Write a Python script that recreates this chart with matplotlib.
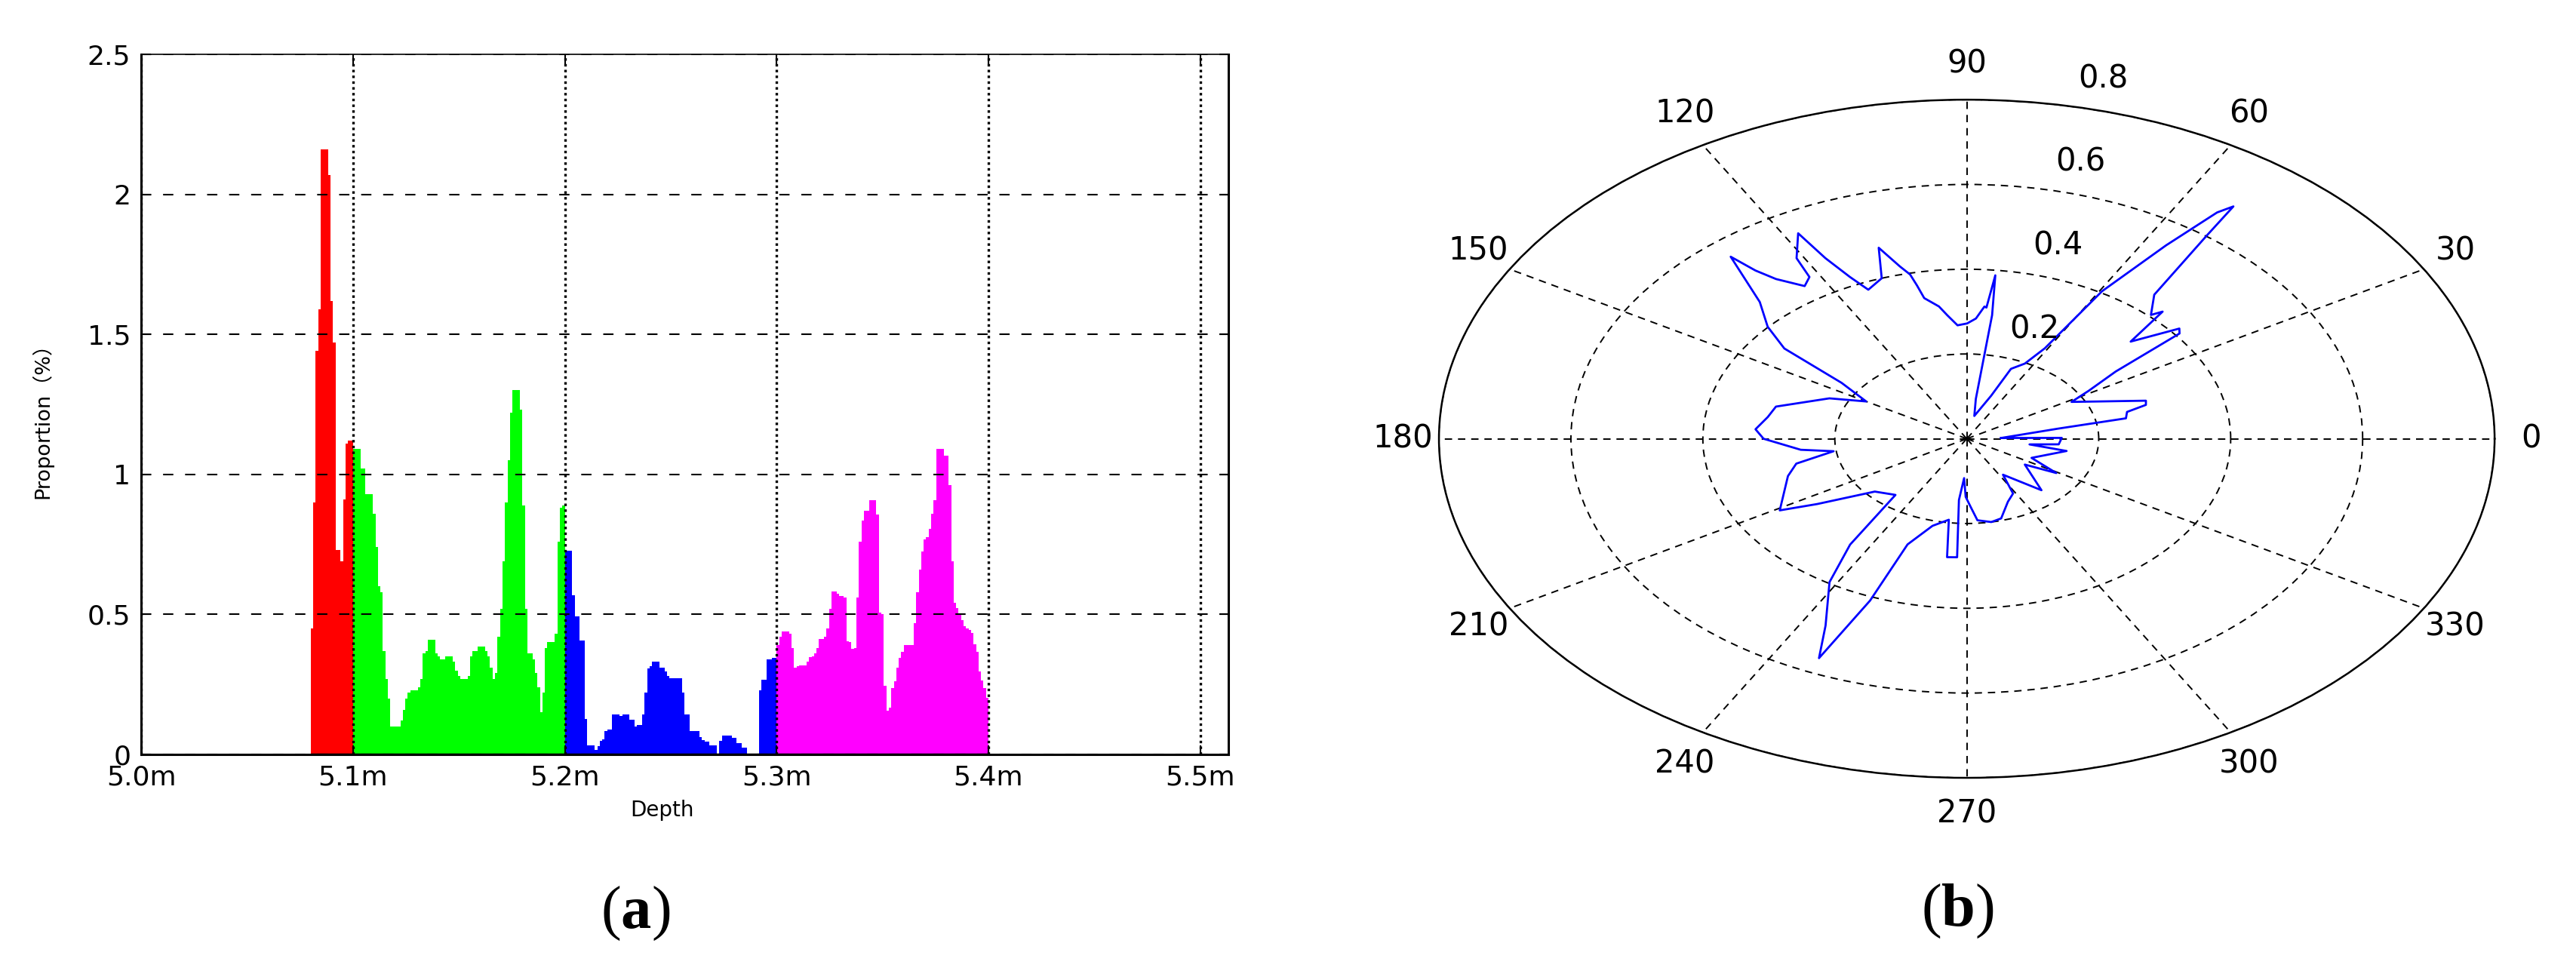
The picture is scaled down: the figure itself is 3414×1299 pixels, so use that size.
import matplotlib.pyplot as plt
import numpy as np

plt.rcParams['font.family'] = ['DejaVu Sans', 'Noto Sans CJK SC']
plt.rcParams['mathtext.fontset'] = 'custom'
plt.rcParams['mathtext.rm'] = 'Liberation Serif'
plt.rcParams['mathtext.bf'] = 'Liberation Serif:bold'

# ---- (a) depth histogram, one list per coloured depth segment ----
bin_width = 0.1 / 85
segment_start = [5.08, 5.10, 5.20, 5.30]
segment_color = ['#ff0000', '#00ff00', '#0000ff', '#ff00ff']

red_vals = [0.45, 0.90, 1.44, 1.59, 2.16, 2.16, 2.16, 2.07, 1.62, 1.47,
            0.73, 0.73, 0.69, 0.91, 1.11, 1.12, 1.12]
green_vals = [1.09, 1.09, 1.09, 1.02, 1.02, 0.93, 0.93, 0.93, 0.86, 0.74,
              0.60, 0.58, 0.37, 0.27, 0.20, 0.10, 0.10, 0.10, 0.10, 0.12,
              0.16, 0.20, 0.22, 0.23, 0.23, 0.23, 0.24, 0.27, 0.36, 0.37,
              0.41, 0.41, 0.41, 0.36, 0.35, 0.34, 0.34, 0.35, 0.35, 0.35,
              0.33, 0.30, 0.28, 0.27, 0.27, 0.27, 0.28, 0.35, 0.37, 0.37,
              0.385, 0.385, 0.385, 0.37, 0.35, 0.31, 0.27, 0.29, 0.42, 0.52,
              0.69, 0.90, 1.05, 1.22, 1.30, 1.30, 1.30, 1.23, 0.89, 0.52,
              0.36, 0.36, 0.34, 0.29, 0.24, 0.15, 0.22, 0.38, 0.40, 0.40,
              0.40, 0.43, 0.76, 0.88, 0.89]
blue_vals = [0.726, 0.726, 0.726, 0.569, 0.493, 0.493, 0.407, 0.407, 0.127, 0.032,
             0.032, 0.032, 0.017, 0.030, 0.048, 0.053, 0.084, 0.089, 0.089, 0.142,
             0.142, 0.142, 0.137, 0.142, 0.142, 0.142, 0.125, 0.125, 0.100, 0.105,
             0.105, 0.142, 0.220, 0.306, 0.315, 0.331, 0.331, 0.331, 0.310, 0.310,
             0.295, 0.279, 0.273, 0.273, 0.273, 0.273, 0.273, 0.220, 0.144, 0.144,
             0.084, 0.084, 0.084, 0.084, 0.062, 0.052, 0.045, 0.045, 0.032, 0.032,
             0.032, 0.0, 0.048, 0.067, 0.067, 0.067, 0.067, 0.058, 0.058, 0.040,
             0.040, 0.024, 0.024, 0.0, 0.0, 0.0, 0.0, 0.0, 0.229, 0.266,
             0.266, 0.339, 0.339, 0.344, 0.344]
magenta_vals = [0.39, 0.42, 0.44, 0.44, 0.44, 0.43, 0.38, 0.31, 0.315, 0.318,
                0.318, 0.318, 0.33, 0.348, 0.35, 0.36, 0.38, 0.412, 0.412, 0.42,
                0.45, 0.52, 0.581, 0.581, 0.575, 0.565, 0.565, 0.56, 0.405, 0.40,
                0.376, 0.38, 0.56, 0.76, 0.835, 0.871, 0.871, 0.908, 0.908, 0.908,
                0.856, 0.506, 0.50, 0.244, 0.157, 0.167, 0.237, 0.26, 0.309, 0.345,
                0.367, 0.39, 0.39, 0.39, 0.39, 0.468, 0.580, 0.659, 0.724, 0.768,
                0.775, 0.806, 0.858, 0.909, 1.09, 1.09, 1.09, 1.068, 1.068, 0.963,
                0.69, 0.542, 0.522, 0.505, 0.479, 0.457, 0.451, 0.444, 0.433, 0.394,
                0.367, 0.296, 0.264, 0.236, 0.202]

depth_ticks = [5.0, 5.1, 5.2, 5.3, 5.4, 5.5]
depth_labels = ['5.0m', '5.1m', '5.2m', '5.3m', '5.4m', '5.5m']
prop_ticks = [0, 0.5, 1, 1.5, 2, 2.5]
prop_labels = ['0', '0.5', '1', '1.5', '2', '2.5']

polar_theta_deg = [2, 9.8, 11.3, 14.6, 16.4, 18.3, 28.7, 31.5, 35.1, 37.6,
                   38.9, 42.7, 45.3, 46.3, 50.1, 52.8, 53.6, 54.6, 56.5, 59.5,
                   61, 63.6, 67.9, 70, 78, 81.7, 82.5, 83.6, 84.5, 85.1,
                   87.2, 89.9, 93, 95.8, 97.7, 101, 101.8, 102.5, 104, 106.5,
                   108.8, 113, 114.9, 116.7, 117.8, 121.2, 122, 124.3, 127.5, 128.9,
                   129.8, 134.2, 138.8, 142.4, 145.2, 150, 155.4, 165.3, 170.4, 176,
                   180, 185.9, 188.3, 192.8, 198, 210.8, 214.2, 221.8, 230.8, 234.7,
                   238.4, 244.1, 246.6, 249, 250.2, 255.8, 261.9, 263.9, 267, 265.3,
                   267.5, 269.3, 272, 274.8, 280.7, 285.5, 292.8, 298.5, 302.9, 313,
                   325.3, 329.2, 335.3, 349.2, 352, 354.6, 360.8, 362]
polar_r = [0.052, 0.141, 0.246, 0.251, 0.283, 0.286, 0.181, 0.217, 0.276, 0.407,
           0.414, 0.338, 0.422, 0.404, 0.443, 0.601, 0.681, 0.655, 0.547, 0.404,
           0.244, 0.198, 0.178, 0.108, 0.055, 0.095, 0.294, 0.388, 0.311, 0.313,
           0.284, 0.272, 0.268, 0.293, 0.315, 0.338, 0.370, 0.397, 0.419, 0.470,
           0.400, 0.382, 0.421, 0.477, 0.548, 0.498, 0.450, 0.436, 0.475, 0.510,
           0.559, 0.450, 0.401, 0.349, 0.231, 0.176, 0.229, 0.299, 0.306, 0.321,
           0.308, 0.253, 0.204, 0.265, 0.285, 0.330, 0.274, 0.187, 0.171, 0.306,
           0.397, 0.490, 0.564, 0.409, 0.265, 0.212, 0.193, 0.281, 0.280, 0.145,
           0.093, 0.137, 0.160, 0.193, 0.200, 0.195, 0.161, 0.147, 0.101, 0.166,
           0.107, 0.158, 0.108, 0.154, 0.096, 0.140, 0.144, 0.052]
ring_ticks = [0.2, 0.4, 0.6, 0.8]
spoke_angles = list(range(0, 360, 30))

fig = plt.figure(figsize=(34.14, 12.99), dpi=100)

# ------------------------------------------------------------------ (a)
ax = fig.add_axes([0.0548, 0.2302, 0.4221, 0.7144])
ax.axhline(0, color='#0000ff', lw=2, zorder=0.5)
segments = [red_vals, green_vals, blue_vals, magenta_vals]
for start, vals, col in zip(segment_start, segments, segment_color):
    edges = start + bin_width * np.arange(len(vals) + 1)
    ax.stairs(vals, edges, fill=True, color=col, lw=0, zorder=1)
last_edge = segment_start[-1] + bin_width * len(magenta_vals)
ax.hlines(0, segment_start[0], last_edge, color='black', lw=2.5, zorder=1.2)

ax.set_xlim(5.0, 5.5133)
ax.set_ylim(0, 2.5)
ax.set_xticks(depth_ticks)
ax.set_xticklabels(depth_labels)
ax.set_yticks(prop_ticks)
ax.set_yticklabels(prop_labels)
ax.tick_params(direction='in', length=9, width=1.5, top=True, right=True,
               labelsize=26, pad=10)
ax.set_axisbelow(False)
ax.xaxis.grid(True, color='black', linestyle=(0, (1, 1.3)), lw=2.4)
ax.yaxis.grid(True, color='black', linestyle=(0, (6.5, 7.5)), lw=1.5)
for side in ['left', 'right', 'bottom']:
    ax.spines[side].set_linewidth(2.2)
ax.spines['top'].set_linewidth(1.2)
ax.set_xlabel('Depth', fontsize=20)
ax.set_ylabel('Proportion（%）', fontsize=19.5)
ax.xaxis.set_label_coords(0.479, -0.065)
ax.yaxis.set_label_coords(-0.081, 0.484)

# ------------------------------------------------------------------ (b)
axp = fig.add_axes([0.5586, 0.2063, 0.4098, 0.692], projection='polar')
axp.set_aspect('auto')
axp.plot(np.deg2rad(polar_theta_deg), polar_r, color='#0000ff', lw=2)
axp.set_ylim(0, 0.8)
axp.set_yticks(ring_ticks)
axp.set_yticklabels([])
axp.set_xticks(np.deg2rad(spoke_angles))
axp.set_xticklabels([str(a) for a in spoke_angles])
axp.tick_params(axis='x', labelsize=30, pad=24)
axp.grid(True, color='black', linestyle=(0, (5, 4)), lw=1.4)
axp.spines['polar'].set_linewidth(1.8)
# ring labels sit up and to the right of each ring, MATLAB style
for r in ring_ticks:
    axp.annotate(f'{r:g}', xy=(np.deg2rad(80), r), xytext=(43, 25),
                 textcoords='offset points', fontsize=30,
                 ha='center', va='center')

# ------------------------------------------------------------------ captions
fig.text(842 / 3414, 1 - 1210 / 1299, r'$\mathrm{(}\mathbf{a}\mathrm{)}$',
         fontsize=58, ha='center', va='center')
fig.text(2594 / 3414, 1 - 1207 / 1299, r'$\mathrm{(}\mathbf{b}\mathrm{)}$',
         fontsize=58, ha='center', va='center')

fig.savefig('out.png', dpi=100)
